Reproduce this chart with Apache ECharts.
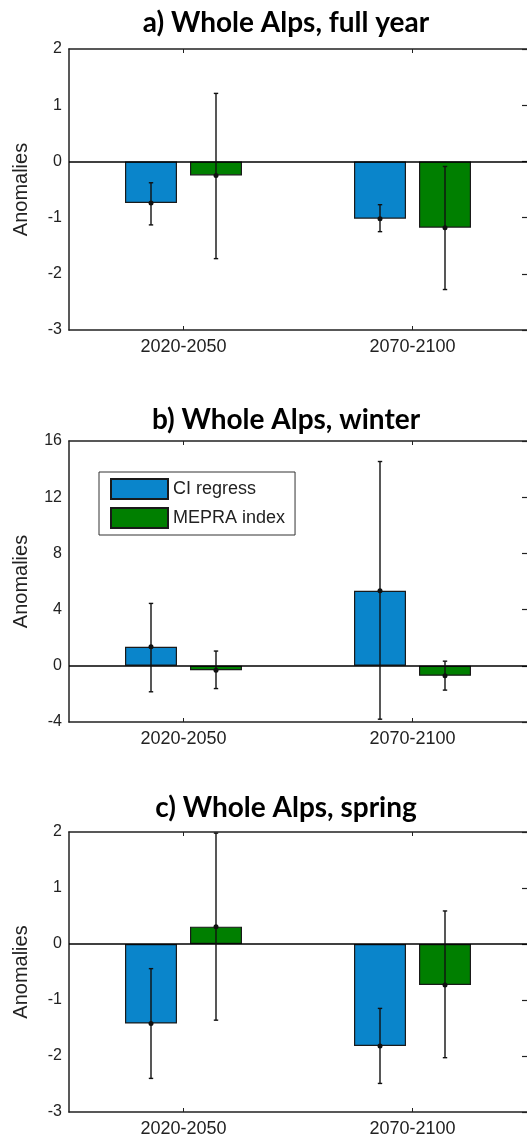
<!DOCTYPE html>
<html>
<head>
<meta charset="utf-8">
<script src="https://cdn.jsdelivr.net/npm/echarts@6/dist/echarts.min.js"></script>
<style>
html,body{margin:0;padding:0;background:#fff;}
#chart{width:527px;height:1138px;}
</style>
</head>
<body>
<div id="chart"></div>
<script>
// ---- Data ----
const categories = ['2020-2050', '2070-2100'];
const seriesNames = ['CI regress', 'MEPRA index'];
const panelTitles = ['a) Whole Alps, full year', 'b) Whole Alps, winter', 'c) Whole Alps, spring'];

// a) full year
const fullYearCI = [-0.74, -1.02];
const fullYearCILow = [-1.13, -1.25];
const fullYearCIHigh = [-0.38, -0.77];
const fullYearMEPRA = [-0.25, -1.18];
const fullYearMEPRALow = [-1.73, -2.28];
const fullYearMEPRAHigh = [1.21, -0.09];

// b) winter
const winterCI = [1.35, 5.34];
const winterCILow = [-1.85, -3.8];
const winterCIHigh = [4.44, 14.54];
const winterMEPRA = [-0.31, -0.71];
const winterMEPRALow = [-1.62, -1.73];
const winterMEPRAHigh = [1.05, 0.33];

// c) spring
const springCI = [-1.42, -1.82];
const springCILow = [-2.40, -2.49];
const springCIHigh = [-0.44, -1.15];
const springMEPRA = [0.31, -0.73];
const springMEPRALow = [-1.36, -2.03];
const springMEPRAHigh = [1.98, 0.59];

// axis ranges / ticks
const yRanges = [
  {min: -3, max: 2, interval: 1},
  {min: -4, max: 16, interval: 4},
  {min: -3, max: 2, interval: 1}
];

// ---- Build ----
const panels = [
  {ci: fullYearCI, ciLow: fullYearCILow, ciHigh: fullYearCIHigh, me: fullYearMEPRA, meLow: fullYearMEPRALow, meHigh: fullYearMEPRAHigh},
  {ci: winterCI, ciLow: winterCILow, ciHigh: winterCIHigh, me: winterMEPRA, meLow: winterMEPRALow, meHigh: winterMEPRAHigh},
  {ci: springCI, ciLow: springCILow, ciHigh: springCIHigh, me: springMEPRA, meLow: springMEPRALow, meHigh: springMEPRAHigh}
];

const COLORS = ['#0A85CB', '#007F00'];
const BAR_W = 52;
const BAR_GAP_PX = 13;
const gridTops = [49, 441, 832];
const GRID_H = 281;
const titleCenters = [23, 420, 808];
const FONT = '"Liberation Sans", Arial, sans-serif';
const TXT = '#222';

const grids = [], xAxes = [], yAxes = [], series = [], titles = [];

panels.forEach((p, k) => {
  grids.push({left: 69, right: -1, top: gridTops[k], height: GRID_H, containLabel: false});
  titles.push({
    text: panelTitles[k], left: 286, top: titleCenters[k] - 16, textAlign: 'center', padding: 0,
    textStyle: {fontFamily: 'Lato, "Open Sans", sans-serif', fontWeight: 'bold', fontSize: 28, lineHeight: 32, color: '#000'}
  });
  // bottom category axis
  xAxes.push({
    type: 'category', gridIndex: k, data: categories, position: 'bottom',
    axisLine: {show: true, onZero: false, lineStyle: {color: '#222', width: 1.5}},
    axisTick: {show: true, inside: true, alignWithLabel: true, length: 4, lineStyle: {color: '#222'}},
    axisLabel: {fontFamily: FONT, fontSize: 18, color: TXT, margin: 8}
  });
  // top frame axis
  xAxes.push({
    type: 'category', gridIndex: k, data: categories, position: 'top',
    axisLine: {show: true, onZero: false, lineStyle: {color: '#222', width: 1.5}},
    axisTick: {show: true, inside: true, alignWithLabel: true, length: 4, lineStyle: {color: '#222'}},
    axisLabel: {show: false}
  });
  const r = yRanges[k];
  yAxes.push({
    type: 'value', gridIndex: k, position: 'left', min: r.min, max: r.max, interval: r.interval,
    name: 'Anomalies', nameLocation: 'middle', nameGap: 38,
    nameTextStyle: {fontFamily: FONT, fontSize: 20, color: TXT},
    axisLine: {show: true, lineStyle: {color: '#222', width: 1.5}},
    axisTick: {show: false},
    splitLine: {show: false},
    axisLabel: {fontFamily: FONT, fontSize: 16, color: TXT, margin: 7}
  });
  yAxes.push({
    type: 'value', gridIndex: k, position: 'right', min: r.min, max: r.max, interval: r.interval,
    axisLine: {show: false},
    axisTick: {show: true, inside: true, length: 5, lineStyle: {color: '#222', width: 1.2}},
    splitLine: {show: false},
    axisLabel: {show: false}
  });

  const vals = [p.ci, p.me];
  const lows = [p.ciLow, p.meLow];
  const highs = [p.ciHigh, p.meHigh];
  vals.forEach((v, s) => {
    const bar = {
      type: 'bar', name: seriesNames[s], xAxisIndex: k * 2, yAxisIndex: k * 2,
      data: v, barWidth: BAR_W, barGap: (BAR_GAP_PX / BAR_W * 100) + '%',
      itemStyle: {color: COLORS[s], borderColor: '#1a1a1a', borderWidth: 1.2},
      emphasis: {disabled: true}, z: 2
    };
    if (s === 0) {
      bar.markLine = {
        silent: true, symbol: 'none', label: {show: false},
        lineStyle: {color: '#000', width: 1.5, type: 'solid'},
        data: [{yAxis: 0}], z: 3
      };
    }
    series.push(bar);
    const off = (s === 0 ? -1 : 1) * (BAR_W + BAR_GAP_PX) / 2;
    series.push({
      type: 'custom', name: seriesNames[s] + ' error', xAxisIndex: k * 2, yAxisIndex: k * 2, z: 5,
      data: v.map((m, i) => [i, lows[s][i], highs[s][i], m]),
      encode: {x: 0, y: [1, 2, 3]},
      renderItem: function (params, api) {
        const i = api.value(0);
        const pl = api.coord([i, api.value(1)]);
        const ph = api.coord([i, api.value(2)]);
        const pm = api.coord([i, api.value(3)]);
        const x = pl[0] + off;
        const cap = 2.2;
        const st = {stroke: '#111', lineWidth: 1.4};
        return {
          type: 'group',
          children: [
            {type: 'line', shape: {x1: x, y1: ph[1], x2: x, y2: pl[1]}, style: st},
            {type: 'line', shape: {x1: x - cap, y1: ph[1], x2: x + cap, y2: ph[1]}, style: st},
            {type: 'line', shape: {x1: x - cap, y1: pl[1], x2: x + cap, y2: pl[1]}, style: st},
            {type: 'circle', shape: {cx: x, cy: pm[1], r: 2.5}, style: {fill: '#111'}}
          ]
        };
      }
    });
  });
});

const chart = echarts.init(document.getElementById('chart'), null, {renderer: 'canvas'});
chart.setOption({
  animation: false,
  backgroundColor: '#fff',
  title: titles,
  grid: grids,
  xAxis: xAxes,
  yAxis: yAxes,
  legend: {
    data: seriesNames, orient: 'vertical', left: 99, top: 472,
    padding: [6, 10, 6, 11], itemWidth: 57, itemHeight: 20, itemGap: 7,
    icon: 'rect', borderColor: '#333', borderWidth: 1, backgroundColor: '#fff',
    selectedMode: false,
    textStyle: {fontFamily: FONT, fontSize: 18, color: TXT}
  },
  series: series
});
</script>
</body>
</html>
